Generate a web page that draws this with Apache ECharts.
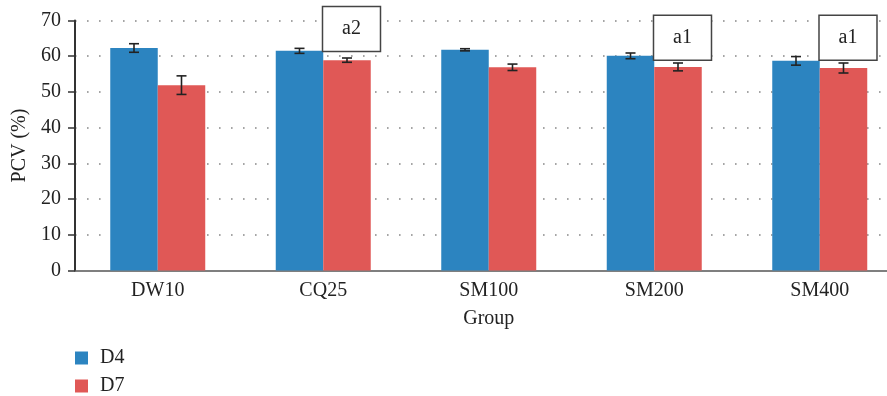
<!DOCTYPE html>
<html>
<head>
<meta charset="utf-8">
<script src="https://cdn.jsdelivr.net/npm/echarts@6/dist/echarts.min.js"></script>
<style>
  html, body { margin: 0; padding: 0; background: #fff; overflow: hidden; }
  /* the plot area runs past the right edge of the visible window */
  #chart { width: 903px; height: 396px; }
</style>
</head>
<body>
<div id="chart"></div>
<script>
// PCV (%) by group, measured on day 4 and day 7 (mean ± error)
const groups = ['DW10', 'CQ25', 'SM100', 'SM200', 'SM400'];
const seriesNames = ['D4', 'D7'];
const d4Mean = [62.3, 61.5, 61.8, 60.1, 58.7];
const d4Err  = [1.2, 0.7, 0.3, 0.8, 1.2];
const d7Mean = [51.9, 58.9, 56.9, 57.0, 56.7];
const d7Err  = [2.6, 0.6, 0.9, 1.1, 1.4];
const yTicks = [0, 10, 20, 30, 40, 50, 60, 70];

// Significance marks placed above the D7 bars
const markGroups = ['CQ25', 'SM200', 'SM400'];
const markTexts  = ['a2', 'a1', 'a1'];
const markLevels = [61.3, 58.9, 58.9];

const FONT = '"Liberation Serif", "DejaVu Serif", serif';
const TEXT = '#222';
const COLORS = ['#2C84C0', '#E05856'];
const CAT_GAP = 0.426;

function barOffset(api, seriesIdx) {
  const band = api.size([1, 0])[0];
  const barW = band * (1 - CAT_GAP) / 2;
  return seriesIdx === 0 ? -barW / 2 : barW / 2;
}

function errorSeries(means, errs, seriesIdx) {
  return {
    type: 'custom',
    name: seriesNames[seriesIdx] + ' error',
    z: 5,
    silent: true,
    clip: false,
    data: means.map((m, i) => [i, m, errs[i]]),
    encode: { x: 0, y: 1 },
    renderItem: function (params, api) {
      const i = api.value(0);
      const m = api.value(1);
      const e = api.value(2);
      const off = barOffset(api, seriesIdx);
      const hi = api.coord([i, m + e]);
      const lo = api.coord([i, m - e]);
      const x = hi[0] + off;
      const cap = 5;
      const style = { stroke: '#222', lineWidth: 1.6 };
      return {
        type: 'group',
        children: [
          { type: 'line', shape: { x1: x, y1: hi[1], x2: x, y2: lo[1] }, style },
          { type: 'line', shape: { x1: x - cap, y1: hi[1], x2: x + cap, y2: hi[1] }, style },
          { type: 'line', shape: { x1: x - cap, y1: lo[1], x2: x + cap, y2: lo[1] }, style }
        ]
      };
    }
  };
}

const chart = echarts.init(document.getElementById('chart'), null, { renderer: 'canvas' });

chart.setOption({
  animation: false,
  backgroundColor: '#fff',
  textStyle: { fontFamily: FONT, color: TEXT },
  grid: { left: 75, top: 20.5, bottom: 125.5, right: 0.5, containLabel: false },
  legend: {
    orient: 'vertical',
    left: 75,
    top: 348,
    height: 60,
    padding: 0,
    itemWidth: 13,
    itemHeight: 13,
    itemGap: 8,
    icon: 'rect',
    data: seriesNames,
    textStyle: { fontFamily: FONT, fontSize: 20, color: TEXT, padding: [0, 0, 0, 7] }
  },
  xAxis: {
    type: 'category',
    data: groups,
    name: 'Group',
    nameLocation: 'middle',
    nameGap: 38,
    nameTextStyle: { fontFamily: FONT, fontSize: 20, color: TEXT },
    axisLine: { lineStyle: { color: '#555', width: 1.5 } },
    axisTick: { show: false },
    axisLabel: { fontFamily: FONT, fontSize: 20, color: TEXT, margin: 10 },
    splitLine: { show: false }
  },
  yAxis: {
    type: 'value',
    min: yTicks[0],
    max: yTicks[yTicks.length - 1],
    interval: yTicks[1] - yTicks[0],
    name: 'PCV (%)',
    nameLocation: 'middle',
    nameGap: 38,
    nameTextStyle: { fontFamily: FONT, fontSize: 20, color: TEXT },
    axisLine: { show: true, lineStyle: { color: '#333', width: 2 } },
    axisTick: { show: true, length: 7, lineStyle: { color: '#333', width: 1.5 } },
    axisLabel: { fontFamily: FONT, fontSize: 20, color: TEXT, margin: 14 },
    splitLine: {
      show: true,
      showMinLine: false,
      lineStyle: { color: '#888', width: 1.6, type: [1.6, 10.4] }
    }
  },
  series: [
    {
      name: seriesNames[0],
      type: 'bar',
      data: d4Mean,
      barGap: '0%',
      barCategoryGap: (CAT_GAP * 100) + '%',
      itemStyle: { color: COLORS[0] }
    },
    {
      name: seriesNames[1],
      type: 'bar',
      data: d7Mean,
      barGap: '0%',
      barCategoryGap: (CAT_GAP * 100) + '%',
      itemStyle: { color: COLORS[1] }
    },
    errorSeries(d4Mean, d4Err, 0),
    errorSeries(d7Mean, d7Err, 1),
    {
      type: 'custom',
      name: 'marks',
      z: 6,
      silent: true,
      clip: false,
      data: markGroups.map((g, k) => [groups.indexOf(g), markLevels[k], markTexts[k]]),
      encode: { x: 0, y: 1 },
      renderItem: function (params, api) {
        const i = api.value(0);
        const lvl = api.value(1);
        const txt = markTexts[params.dataIndex];
        const p = api.coord([i, lvl]);
        const cx = p[0] + barOffset(api, 1) + 4.5;
        const w = 58, h = 45;
        return {
          type: 'group',
          children: [
            {
              type: 'rect',
              shape: { x: cx - w / 2, y: p[1] - h, width: w, height: h },
              style: { fill: '#fff', stroke: '#444', lineWidth: 1.5 }
            },
            {
              type: 'text',
              style: {
                x: cx, y: p[1] - h / 2,
                text: txt,
                align: 'center', verticalAlign: 'middle',
                font: '20px ' + FONT,
                fill: TEXT
              }
            }
          ]
        };
      }
    }
  ]
});
</script>
</body>
</html>
